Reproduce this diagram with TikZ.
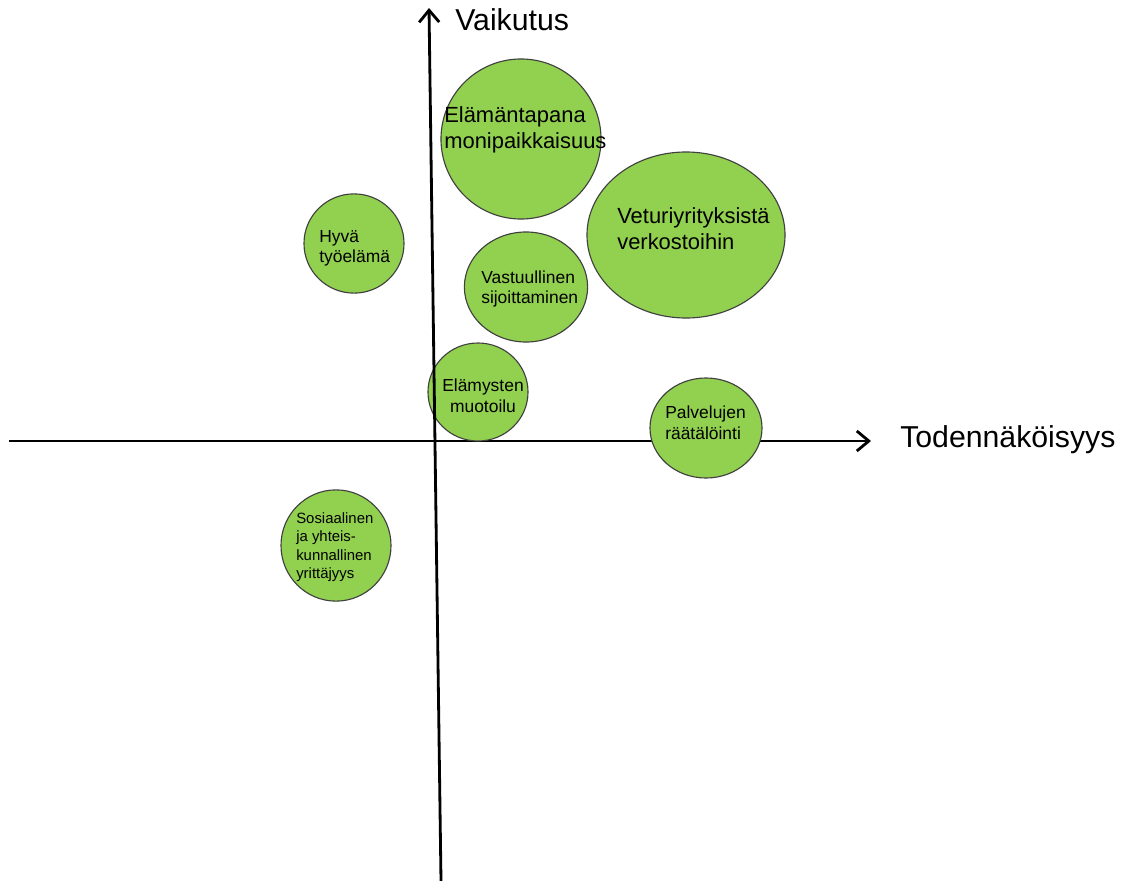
\documentclass[tikz,border=0pt]{standalone}
\usepackage{fontspec}
\setmainfont{Liberation Sans}
\usetikzlibrary{arrows.meta,shapes.geometric,positioning}
\definecolor{bubblegreen}{RGB}{146,208,80}
\tikzset{
  bubble/.style={ellipse,draw=black!75,line width=0.8pt,fill=bubblegreen,inner sep=0pt},
  axis/.style={line width=2pt,-{Straight Barb[length=0.3cm,width=0.5cm]}},
  bigtxt/.style={font=\fontsize{21.5}{26}\selectfont,inner sep=0pt,anchor=west},
  midtxt/.style={font=\fontsize{15.6}{18.5}\selectfont,inner sep=0pt,align=left,anchor=west},
  smalltxt/.style={font=\fontsize{12.4}{14.6}\selectfont,inner sep=0pt,align=left,anchor=west},
  tinytxt/.style={font=\fontsize{10.6}{13.2}\selectfont,inner sep=0pt,align=left,anchor=west}
}
\begin{document}
\begin{tikzpicture}[x=0.025cm,y=-0.025cm]
\useasboundingbox (0,0) rectangle (1126,881);
% horizontal axis
\coordinate (xstart) at (9,441);
\coordinate (xend) at (871,441);
\draw[axis] (xstart) -- (xend);
\node at (900,440)[bigtxt](xlabel){Todennäköisyys};
% bubbles
\node at (521,139)[bubble,minimum width=4cm,minimum height=4cm](elama){};
\node at (686,235)[bubble,minimum width=4.95cm,minimum height=4.15cm](veturi){};
\node at (354,243.5)[bubble,minimum width=2.5cm,minimum height=2.48cm](hyva){};
\node at (526,287)[bubble,minimum width=3.08cm,minimum height=2.75cm](vastuu){};
\node at (478,392)[bubble,minimum width=2.5cm,minimum height=2.45cm](elamys){};
\node at (706,428)[bubble,minimum width=2.8cm,minimum height=2.5cm](palvelu){};
\node at (336,545.5)[bubble,minimum width=2.75cm,minimum height=2.78cm](sosiaali){};
% texts
\node at (444,130)[midtxt](elamatxt){Elämäntapana\\monipaikkaisuus};
\node at (617,228.5)[midtxt](veturitxt){Veturiyrityksistä\\verkostoihin};
\node at (319,248.5)[smalltxt](hyvatxt){Hyvä\\työelämä};
\node at (481,289)[smalltxt](vastuutxt){Vastuullinen\\sijoittaminen};
\node at (483,395.5)[smalltxt,align=center,anchor=center](elamystxt){Elämysten\\muotoilu};
\node at (665,422.5)[smalltxt](palvelutxt){Palvelujen\\räätälöinti};
\node at (296,547)[tinytxt](sosiaalitxt){Sosiaalinen\\ja yhteis-\\kunnallinen\\yrittäjyys};
% vertical axis
\coordinate (ybottom) at (441,881);
\coordinate (ytop) at (429,8);
\draw[axis] (ybottom) -- (ytop);
\node at (455,20)[bigtxt](ylabel){Vaikutus};
\end{tikzpicture}
\end{document}
